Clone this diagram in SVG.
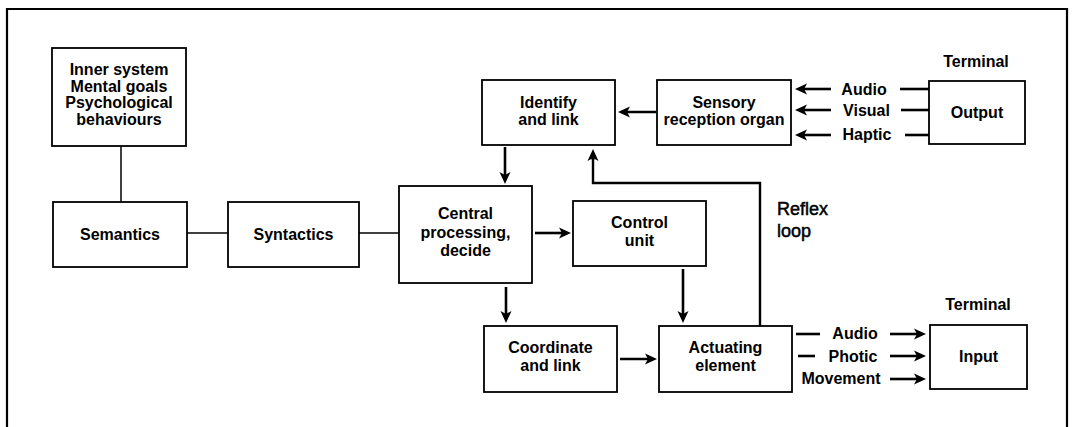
<svg xmlns="http://www.w3.org/2000/svg" width="1073" height="427" viewBox="0 0 1073 427">
  <defs>
    <style>
      .frame { fill: none; stroke: #000; stroke-width: 2.2; }
      .box { fill: #fff; stroke: #000; stroke-width: 1.8; }
      .t { font-family: "Liberation Sans", Arial, sans-serif; font-size: 16px; font-weight: bold; fill: #000; text-anchor: middle; }
      .big { font-family: "Liberation Sans", Arial, sans-serif; font-size: 18px; fill: #000; stroke: #000; stroke-width: 0.5; }
      .thin { fill: none; stroke: #000; stroke-width: 1.5; }
      .arr { fill: none; stroke: #000; stroke-width: 2.6; marker-end: url(#head); }
      .dash { fill: none; stroke: #000; stroke-width: 2.6; }
      .loop { fill: none; stroke: #000; stroke-width: 2.4; }
    </style>
    <marker id="head" viewBox="0 0 12 12" refX="8" refY="6" markerWidth="12" markerHeight="12" markerUnits="userSpaceOnUse" orient="auto">
      <path d="M0,0.5 L12,6 L0,11.5 L3,6 Z" fill="#000"/>
    </marker>
  </defs>

  <rect width="1073" height="427" fill="#fff"/>
  <!-- outer frame, open at the bottom -->
  <path class="frame" d="M7,427 V9 H1067 V427"/>

  <!-- connectors -->
  <g id="connectors">
    <path class="thin" d="M121,146 V202"/>
    <path class="thin" d="M187,233 H228"/>
    <path class="thin" d="M359,233 H399"/>
    <path class="arr" d="M505,147 V180"/>
    <path class="arr" d="M656,112 H622"/>
    <path class="arr" d="M535,233 H567"/>
    <path class="arr" d="M506,287 V319"/>
    <path class="arr" d="M683,269 V319"/>
    <path class="arr" d="M620,359 H653"/>
    <!-- reflex loop -->
    <path class="loop" d="M760,326 V183 H593 V153"/>
    <path class="arr" d="M593,160 V153"/>
    <!-- terminal output to sensory organ -->
    <path class="dash" d="M900,89 H929"/>
    <path class="dash" d="M901,110 H929"/>
    <path class="dash" d="M905,135 H929"/>
    <path class="arr" d="M831,89 H799"/>
    <path class="arr" d="M831,110 H799"/>
    <path class="arr" d="M831,135 H799"/>
    <!-- actuating element to terminal input -->
    <path class="dash" d="M796,334 H820"/>
    <path class="dash" d="M798,356 H815"/>
    <path class="arr" d="M890,334 H922"/>
    <path class="arr" d="M890,356 H922"/>
    <path class="arr" d="M890,379 H922"/>
  </g>

  <g id="inner-system">
    <rect class="box" x="52" y="48" width="134" height="98"/>
    <text class="t" x="119" y="75">Inner system</text>
    <text class="t" x="119" y="91.5">Mental goals</text>
    <text class="t" x="119" y="108">Psychological</text>
    <text class="t" x="119" y="125">behaviours</text>
  </g>

  <g id="semantics">
    <rect class="box" x="53" y="202" width="134" height="65"/>
    <text class="t" x="120" y="240">Semantics</text>
  </g>

  <g id="syntactics">
    <rect class="box" x="228" y="202" width="131" height="65"/>
    <text class="t" x="293.5" y="240">Syntactics</text>
  </g>

  <g id="central">
    <rect class="box" x="399" y="186" width="133" height="97"/>
    <text class="t" x="465.5" y="219">Central</text>
    <text class="t" x="465.5" y="237.5">processing,</text>
    <text class="t" x="465.5" y="256">decide</text>
  </g>

  <g id="identify">
    <rect class="box" x="482" y="80" width="133" height="65"/>
    <text class="t" x="548.5" y="108">Identify</text>
    <text class="t" x="548.5" y="125">and link</text>
  </g>

  <g id="sensory">
    <rect class="box" x="657" y="80" width="134" height="65"/>
    <text class="t" x="724" y="107.5">Sensory</text>
    <text class="t" x="724" y="124.5">reception organ</text>
  </g>

  <g id="output">
    <text class="t" x="976" y="67">Terminal</text>
    <rect class="box" x="929" y="81" width="96" height="63"/>
    <text class="t" x="977" y="118">Output</text>
  </g>

  <g id="output-channels">
    <text class="t" x="864" y="94.5">Audio</text>
    <text class="t" x="866.5" y="116">Visual</text>
    <text class="t" x="867" y="140">Haptic</text>
  </g>

  <g id="control">
    <rect class="box" x="573" y="201" width="133" height="65"/>
    <text class="t" x="639.5" y="228">Control</text>
    <text class="t" x="639.5" y="245.5">unit</text>
  </g>

  <g id="coordinate">
    <rect class="box" x="484" y="326" width="133" height="66"/>
    <text class="t" x="550.5" y="353">Coordinate</text>
    <text class="t" x="550.5" y="371">and link</text>
  </g>

  <g id="actuating">
    <rect class="box" x="659" y="326" width="133" height="66"/>
    <text class="t" x="725.5" y="353">Actuating</text>
    <text class="t" x="725.5" y="371">element</text>
  </g>

  <g id="reflex-label">
    <text class="big" x="777" y="215">Reflex</text>
    <text class="big" x="777" y="237">loop</text>
  </g>

  <g id="input-channels">
    <text class="t" x="855" y="338.5">Audio</text>
    <text class="t" x="853" y="361.5">Photic</text>
    <text class="t" x="841" y="384">Movement</text>
  </g>

  <g id="input">
    <text class="t" x="978" y="310">Terminal</text>
    <rect class="box" x="930" y="325" width="97" height="64"/>
    <text class="t" x="978.5" y="362">Input</text>
  </g>
</svg>
